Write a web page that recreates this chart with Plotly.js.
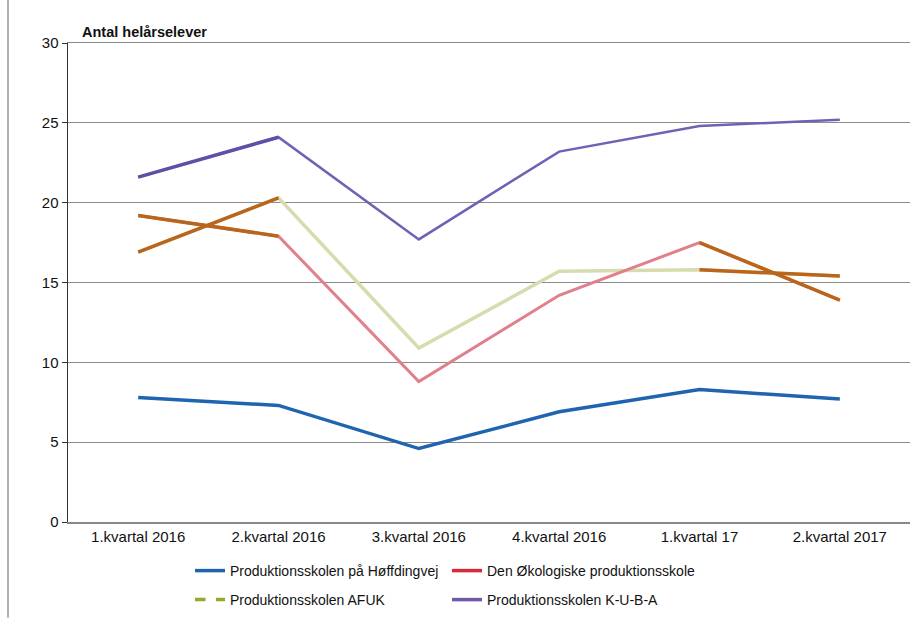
<!DOCTYPE html>
<html>
<head>
<meta charset="utf-8">
<script src="https://cdn.plot.ly/plotly-3.0.1.min.js"></script>
<style>html,body{margin:0;padding:0;background:#fff;}#chart{width:914px;height:619px;}</style>
</head>
<body>
<div id="chart"></div>
<script>
const categories = ['1.kvartal 2016','2.kvartal 2016','3.kvartal 2016','4.kvartal 2016','1.kvartal 17','2.kvartal 2017'];
const seriesNames = ['Produktionsskolen på Høffdingvej','Den Økologiske produktionsskole','Produktionsskolen AFUK','Produktionsskolen K-U-B-A'];
const hoffding = [7.8, 7.3, 4.6, 6.9, 8.3, 7.7];
const oko = [19.2, 17.9, 8.8, 14.2, 17.5, 13.9];
const afuk = [16.9, 20.3, 10.9, 15.7, 15.8, 15.4];
const kuba = [21.6, 24.1, 17.7, 23.2, 24.8, 25.2];
const yTicks = [0, 5, 10, 15, 20, 25, 30];

const FONT = 'Liberation Sans, Arial, sans-serif';
const legendColors = ['#1f64ae', '#d8283a', '#94aa2a', '#6e5aa8'];
const BROWN = '#b9651c';

function seg(arr, i) { return {x: categories.slice(i, i + 2), y: arr.slice(i, i + 2)}; }

const traces = [
  {x: categories, y: kuba, mode: 'lines', line: {color: '#6f62b4', width: 2.5}, showlegend: false},
  {x: categories, y: afuk, mode: 'lines', line: {color: '#d7dcae', width: 3.5}, showlegend: false},
  {x: categories, y: oko, mode: 'lines', line: {color: '#e0808c', width: 3}, showlegend: false},
  {x: categories, y: hoffding, mode: 'lines', line: {color: '#1f64ae', width: 3.5}, showlegend: false},
];
traces.push(Object.assign(seg(kuba, 0), {mode: 'lines', line: {color: '#5f4fa6', width: 3.5}, showlegend: false}));
[0, 4].forEach(i => {
  traces.push(Object.assign(seg(oko, i), {mode: 'lines', line: {color: BROWN, width: 3.5}, showlegend: false}));
  traces.push(Object.assign(seg(afuk, i), {mode: 'lines', line: {color: BROWN, width: 3.5}, showlegend: false}));
});
seriesNames.forEach((n, k) => {
  traces.push({x: [categories[0]], y: [null], mode: 'lines', name: n,
    line: {color: legendColors[k], width: 3.5, dash: k === 2 ? 'dash' : 'solid'},
    legend: k < 2 ? 'legend' : 'legend2', showlegend: true});
});

const legendCommon = {
  orientation: 'h', xref: 'container', yref: 'container', xanchor: 'left', yanchor: 'middle',
  font: {family: FONT, size: 14, color: '#111'}, entrywidth: 212, entrywidthmode: 'pixels',
  itemwidth: 30, bgcolor: 'rgba(0,0,0,0)'
};

const layout = {
  width: 914, height: 619,
  margin: {l: 68, r: 4, t: 43, b: 97},
  paper_bgcolor: '#fff', plot_bgcolor: '#fff',
  font: {family: FONT, size: 15, color: '#111'},
  xaxis: {
    type: 'category', range: [-0.5, 5.5], showgrid: false,
    showline: true, linecolor: '#888', linewidth: 1.5, mirror: true,
    tickfont: {family: FONT, size: 15, color: '#111'}, ticks: '', zeroline: false
  },
  yaxis: {
    range: [0, 30], tickvals: yTicks, showgrid: true, gridcolor: '#8c8c8c', gridwidth: 1.2,
    showline: true, linecolor: '#333', linewidth: 1.5, ticks: 'outside', ticklen: 5, tickcolor: '#333',
    zeroline: false, tickfont: {family: FONT, size: 15, color: '#111'}
  },
  legend: Object.assign({x: 190/914, y: 1 - 571/619}, legendCommon),
  legend2: Object.assign({x: 190/914, y: 1 - 600/619}, legendCommon),
  annotations: [{
    text: '<b>Antal helårselever</b>', xref: 'paper', yref: 'paper', x: 12/842, y: 1,
    xanchor: 'left', yanchor: 'bottom', yshift: 1, showarrow: false,
    font: {family: FONT, size: 14.5, color: '#111'}
  }],
  shapes: [{type: 'line', xref: 'paper', yref: 'paper', x0: -60/842, x1: -60/842, y0: -0.2, y1: 1.09,
    line: {color: '#999', width: 1.5}}]
};

Plotly.newPlot('chart', traces, layout, {displayModeBar: false, staticPlot: true});
</script>
</body>
</html>
